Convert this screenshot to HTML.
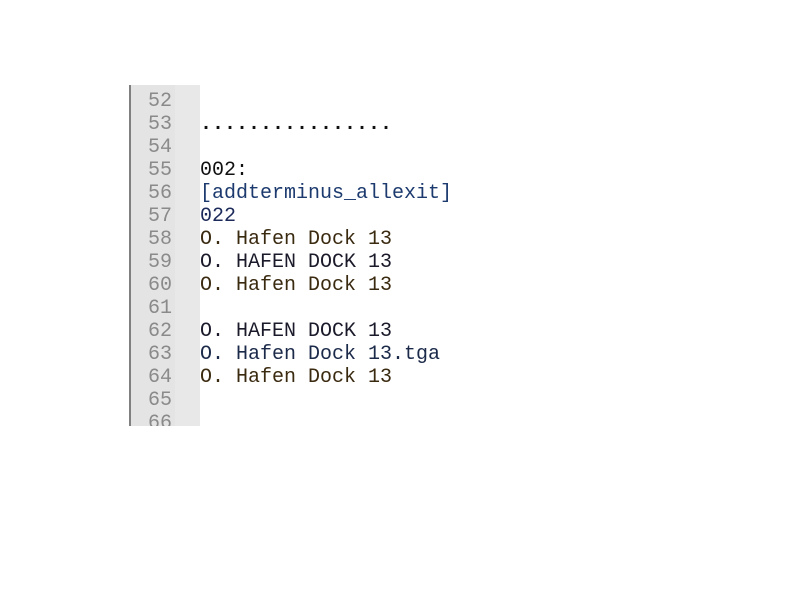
<!DOCTYPE html>
<html><head><style>
body{margin:0;width:800px;height:600px;background:#fff;position:relative;overflow:hidden}
.g{position:absolute;left:129px;top:85px;width:69px;height:341px;background:#e4e4e4;border-left:2px solid #808080;overflow:hidden}
.g2{position:absolute;left:175px;top:85px;width:25px;height:341px;background:#e8e8e8}
.n,.t{position:absolute;font-family:"Liberation Mono",monospace;font-size:20px;line-height:23px;white-space:pre}
.n{left:131px;width:41px;text-align:right;color:#8a8a8a;top:90px;height:336px;overflow:hidden}
.t{left:200px;top:90px;color:#111}
</style></head><body>
<div class="g"></div><div class="g2"></div>
<div class="n">52
53
54
55
56
57
58
59
60
61
62
63
64
65
66</div>
<div class="t">
<b>................</b>

002:
<span style="color:#1c3a6e">[addterminus_allexit]</span>
<span style="color:#1c2a5a">022</span>
<span style="color:#3a2a10">O. Hafen Dock 13</span>
<span style="color:#1a1a2a">O. HAFEN DOCK 13</span>
<span style="color:#3a2a10">O. Hafen Dock 13</span>

<span style="color:#1a1a2a">O. HAFEN DOCK 13</span>
<span style="color:#1c2a4a">O. Hafen Dock 13.tga</span>
<span style="color:#3a2a10">O. Hafen Dock 13</span></div>
</body></html>
